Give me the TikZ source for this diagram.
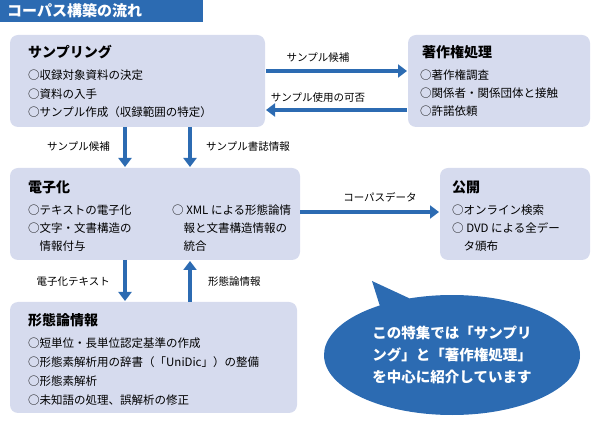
\documentclass[tikz,border=0pt]{standalone}
\usepackage{fontspec}
\setmainfont{Noto Sans CJK JP}
\usetikzlibrary{arrows.meta,shapes.geometric,shapes.callouts}
\definecolor{boxc}{HTML}{D6DBEE}
\definecolor{blu}{HTML}{2C6BB2}
\begin{document}
\begin{tikzpicture}[x=1pt,y=-1pt,
 box/.style={fill=boxc,rounded corners=8pt,draw=none},
 ttl/.style={anchor=west,font=\fontsize{14}{15}\selectfont\bfseries,inner sep=0},
 ln/.style={anchor=west,font=\fontsize{11.5}{12}\selectfont,inner sep=0},
 lab/.style={font=\fontsize{10.5}{11}\selectfont,inner sep=0},
 arr/.style={draw=blu,line width=4pt,-{Triangle[width=13pt,length=9pt]}}]
\useasboundingbox (0,0) rectangle (600,443);
\node[fill=blu,anchor=north west,minimum width=203pt,minimum height=22pt,inner sep=0] (t) at (0,0) {};
\node[anchor=west,text=white,font=\fontsize{15}{16}\selectfont\bfseries,inner sep=0] (tt) at (7,11) {コーパス構築の流れ};
% boxes
\filldraw[box] (10,35) rectangle (265,127);
\filldraw[box] (408,35) rectangle (590,127);
\filldraw[box] (10,168) rectangle (300,260);
\filldraw[box] (440,168) rectangle (590,260);
\filldraw[box] (10,302) rectangle (297,413);
\node[ttl] (s0) at (28,52) {サンプリング};
\node[ln] (s1) at (28,75) {○収録対象資料の決定};
\node[ln] (s2) at (28,94) {○資料の入手};
\node[ln] (s3) at (28,112) {○サンプル作成（収録範囲の特定）};
\node[ttl] (c0) at (422,52) {著作権処理};
\node[ln] (c1) at (420,75) {○著作権調査};
\node[ln] (c2) at (420,93) {○関係者・関係団体と接触};
\node[ln] (c3) at (420,111) {○許諾依頼};
\node[ttl] (d0) at (28,187) {電子化};
\node[ln] (d1) at (28,210) {○テキストの電子化};
\node[ln] (d2) at (28,228) {○文字・文書構造の};
\node[ln] (d3) at (28,246) {\hspace*{1em}情報付与};
\node[ln] (d4) at (172,210) {○ XML による形態論情};
\node[ln] (d5) at (172,228) {\hspace*{1em}報と文書構造情報の};
\node[ln] (d6) at (172,246) {\hspace*{1em}統合};
\node[ttl] (p0) at (452,187) {公開};
\node[ln] (p1) at (452,210) {○オンライン検索};
\node[ln] (p2) at (452,228) {○ DVD による全デー};
\node[ln] (p3) at (452,246) {\hspace*{1em}タ頒布};
\node[ttl] (m0) at (28,320) {形態論情報};
\node[ln] (m1) at (28,343) {○短単位・長単位認定基準の作成};
\node[ln] (m2) at (28,362) {○形態素解析用の辞書（「UniDic」）の整備};
\node[ln] (m3) at (28,381) {○形態素解析};
\node[ln] (m4) at (28,400) {○未知語の処理、誤解析の修正};
% arrow coordinates
\coordinate (a1s) at (266,71); \coordinate (a1e) at (407,71);
\coordinate (a2s) at (407,110); \coordinate (a2e) at (266,110);
\coordinate (a3s) at (125,127); \coordinate (a3e) at (125,167);
\coordinate (a4s) at (190,127); \coordinate (a4e) at (190,167);
\coordinate (a5s) at (300,212); \coordinate (a5e) at (439,212);
\coordinate (a6s) at (125,260); \coordinate (a6e) at (125,301);
\coordinate (a7s) at (190,302); \coordinate (a7e) at (190,261);
\foreach \i in {1,...,7}{\draw[arr] (a\i s) -- (a\i e);}
\node[lab] (l1) at (318,58) {サンプル候補};
\node[lab] (l2) at (318,98) {サンプル使用の可否};
\node[lab,anchor=east] (l3) at (110,147) {サンプル候補};
\node[lab,anchor=west] (l4) at (206,147) {サンプル書誌情報};
\node[lab] (l5) at (380,197) {コーパスデータ};
\node[lab,anchor=east] (l6) at (110,282) {電子化テキスト};
\node[lab,anchor=west] (l7) at (208,282) {形態論情報};
% bubble
\node[ellipse callout,fill=blu,minimum width=256pt,minimum height=120pt,callout absolute pointer={(372,281)},text=white,font=\fontsize{14.5}{22}\selectfont\bfseries,align=center] (bub) at (452,355) {この特集では「サンプリ\\ング」と「著作権処理」\\を中心に紹介しています};
\end{tikzpicture}
\end{document}
